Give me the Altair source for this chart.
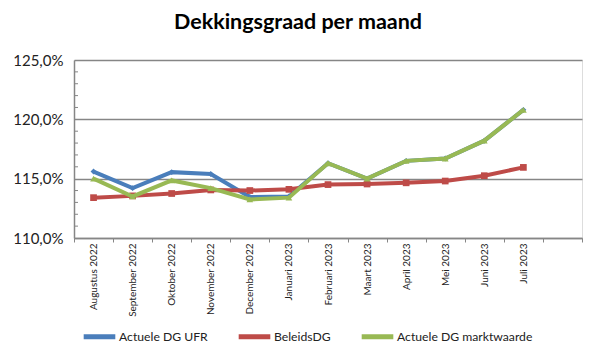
import altair as alt
import pandas as pd

months = ["Augustus 2022", "September 2022", "Oktober 2022", "November 2022",
          "December 2022", "Januari 2023", "Februari 2023", "Maart 2023",
          "April 2023", "Mei 2023", "Juni 2023", "Juli 2023"]
ufr = [115.6, 114.2, 115.55, 115.4, 113.45, 113.5, 116.3, 115.0, 116.5, 116.7, 118.2, 120.8]
beleids = [113.4, 113.55, 113.75, 114.05, 114.0, 114.1, 114.5, 114.55, 114.65, 114.8, 115.25, 115.95]
markt = [115.0, 113.5, 114.85, 114.2, 113.25, 113.4, 116.3, 115.0, 116.5, 116.7, 118.2, 120.8]
series_names = ["Actuele DG UFR", "BeleidsDG", "Actuele DG marktwaarde"]
colors = ["#4A7EBB", "#BE4B48", "#98B954"]
shapes = ["diamond", "square", "triangle-up"]
minor_ticks = [111, 112, 113, 114, 116, 117, 118, 119, 121, 122, 123, 124]

FONT = "Lato"
x_domain = months + ["_"]

def frame(name, vals):
    return pd.DataFrame({"maand": months, "reeks": name, "waarde": vals})

x_enc = alt.X("maand:O", sort=x_domain,
              scale=alt.Scale(type="band", domain=x_domain, paddingInner=0, paddingOuter=0),
              axis=alt.Axis(title=None, labelAngle=270, labelAlign="right", labelBaseline="middle",
                            labelFontSize=10, labelFont=FONT, labelColor="#222222",
                            labelPadding=1, tickBand="extent", ticks=True, tickSize=4,
                            tickColor="#868686", domainColor="#868686", domainWidth=1.5,
                            labelExpr="datum.value == '_' ? '' : datum.value"))
y_scale = alt.Scale(domain=[110, 125], nice=False, zero=False)
y_enc = alt.Y("waarde:Q", scale=y_scale,
              axis=alt.Axis(title=None, values=[110, 115, 120, 125], grid=True,
                            gridColor="#868686", gridWidth=1.5, ticks=False,
                            domainColor="#868686", domainWidth=1.5,
                            labelFontSize=15, labelFont=FONT, labelColor="#222222",
                            labelPadding=11,
                            labelExpr="replace(format(datum.value, '.1f'), '.', ',') + '%'"))
color_enc = alt.Color("reeks:N", scale=alt.Scale(domain=series_names, range=colors),
                      legend=alt.Legend(title=None, orient="none", direction="horizontal",
                                        legendX=7, legendY=258, symbolType="stroke",
                                        symbolStrokeWidth=5, symbolSize=1000,
                                        labelFont=FONT, labelFontSize=12.2, labelColor="#222222",
                                        labelOffset=1, columnPadding=20, labelLimit=300))

layers = []
for name, vals, shp, sz in zip(series_names, [ufr, beleids, markt], shapes, [35, 45, 45]):
    df = frame(name, vals)
    base = alt.Chart(df).encode(x=x_enc, y=y_enc, color=color_enc)
    layers.append(base.mark_line(strokeWidth=4))
    layers.append(base.mark_point(shape=shp, filled=True, size=sz, opacity=1))

ticks_df = pd.DataFrame({"v": minor_ticks})
minor = alt.Chart(ticks_df).mark_rule(color="#868686", strokeWidth=1).encode(
    y=alt.Y("v:Q", scale=y_scale), x=alt.value(0), x2=alt.value(4))

chart = alt.layer(minor, *layers).properties(
    width=508, height=178,
    title=alt.TitleParams("Dekkingsgraad per maand", font=FONT, fontSize=21.5, fontWeight="bold",
                          color="#000000", anchor="middle", dx=-30, offset=20),
    autosize=alt.AutoSizeParams(type="none"),
    padding={"left": 74, "top": 60, "right": 18, "bottom": 119},
).configure_view(stroke=None).configure(background="white")

chart.save("out.html", embed_options={"renderer": "svg", "actions": False})
